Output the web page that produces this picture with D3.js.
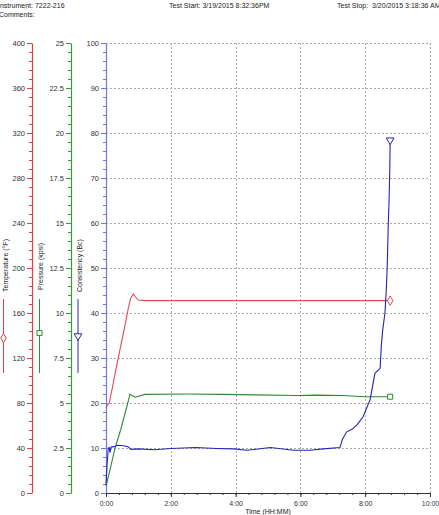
<!DOCTYPE html>
<html>
<head>
<meta charset="utf-8">
<script src="https://cdn.jsdelivr.net/npm/d3@7"></script>
<style>
  body { margin: 0; background: #fff; }
  svg { display: block; font-family: "Liberation Sans", Arial, sans-serif; }
  .tick text { fill: #333; }
</style>
</head>
<body>
<div id="chart"></div>
<script>
// header texts
var instrument = "Instrument: 7222-216",
    comments = "Comments:",
    testStart = "Test Start: 3/19/2015 8:32:36PM",
    testStop = "Test Stop:  3/20/2015 3:18:36 AM";

// time axis (hours)
var timeTicks = [0, 2, 4, 6, 8, 10];

// temperature (F)
var tempTime = [0, 0.05, 0.1, 0.2, 0.3, 0.4, 0.5, 0.6, 0.7, 0.76, 0.84, 0.92, 1.0, 1.2, 3, 5, 7, 8.77];
var tempVals = [76, 78, 80, 94, 109, 123, 137, 151, 166, 173, 177, 174, 171.5, 171, 171, 171, 171, 171];

// pressure (kpsi)
var presTime = [0, 0.1, 0.28, 0.45, 0.6, 0.74, 0.82, 0.9, 1.2, 2.5, 3.6, 4.65, 5.9, 6.5, 7.3, 8.0, 8.77];
var presVals = [0.4, 1.1, 2.5, 3.5, 4.5, 5.48, 5.4, 5.32, 5.48, 5.5, 5.48, 5.45, 5.42, 5.44, 5.42, 5.35, 5.35];

// consistency (Bc)
var consTime = [0, 0.03, 0.07, 0.1, 0.12, 0.16, 0.25, 0.37, 0.55, 0.68, 0.77, 1.0, 1.5, 2.0, 2.77, 3.4, 3.94, 4.35, 5.07, 5.8, 6.3, 6.7, 7.22,
                7.3, 7.43, 7.6, 7.74, 7.94, 8.05, 8.15, 8.3, 8.46, 8.5, 8.54, 8.61, 8.65, 8.68, 8.71, 8.74, 8.76, 8.77];
var consVals = [1.8, 6, 10, 10.1, 9.0, 10.2, 10.3, 10.6, 10.5, 10.3, 9.7, 9.8, 9.6, 9.9, 10.1, 9.9, 9.8, 9.5, 10.1, 9.5, 9.5, 9.8, 10.1,
                12, 13.6, 14.2, 15.1, 17, 19, 20.7, 26.6, 27.7, 33, 36.2, 40, 45, 50.3, 59.2, 65.8, 72.5, 78.4];

var tempTicks = d3.range(0, 401, 40),
    presTicks = [0, 2.5, 5, 7.5, 10, 12.5, 15, 17.5, 20, 22.5, 25],
    consTicks = d3.range(0, 101, 10);

var width = 439, height = 515,
    plotTop = 43, plotBottom = 493;

var svg = d3.select("#chart").append("svg")
    .attr("width", width)
    .attr("height", height);

var x = d3.scaleLinear().domain([0, 10]).range([106, 430]);
var yT = d3.scaleLinear().domain([0, 400]).range([plotBottom, plotTop]);
var yP = d3.scaleLinear().domain([0, 25]).range([plotBottom, plotTop]);
var yC = d3.scaleLinear().domain([0, 100]).range([plotBottom, plotTop]);

// header
var head = svg.append("g").attr("font-size", "7px").attr("fill", "#222");
head.append("text").attr("x", -2).attr("y", 8).text(instrument);
head.append("text").attr("x", -1).attr("y", 17).text(comments);
head.append("text").attr("x", 169).attr("y", 8).text(testStart);
head.append("text").attr("x", 337).attr("y", 8).attr("xml:space", "preserve").text(testStop);

// grid
var grid = svg.append("g")
    .attr("stroke", "#aaa")
    .attr("stroke-dasharray", "2,2")
    .attr("stroke-width", 1);
grid.selectAll("line.h").data(consTicks.filter(function(d) { return d > 0; }))
  .enter().append("line")
    .attr("x1", x(0)).attr("x2", x(10))
    .attr("y1", function(d) { return Math.round(yC(d)) + 0.5; })
    .attr("y2", function(d) { return Math.round(yC(d)) + 0.5; });
grid.selectAll("line.v").data(timeTicks.filter(function(d) { return d > 0; }))
  .enter().append("line")
    .attr("y1", plotTop).attr("y2", plotBottom)
    .attr("x1", function(d) { return Math.round(x(d)) + 0.5; })
    .attr("x2", function(d) { return Math.round(x(d)) + 0.5; });

// y axes: minor ticks, then major ticks with labels
function yAxis(scale, xpos, majors, minorStep, color, fmt) {
  var g = svg.append("g").attr("transform", "translate(" + xpos + ",0)");
  var dom = scale.domain();
  g.append("g")
    .call(d3.axisLeft(scale).tickValues(d3.range(dom[0], dom[1] + minorStep / 2, minorStep))
      .tickSize(3).tickSizeOuter(0).tickFormat(""))
    .call(function(a) { a.select(".domain").remove(); a.selectAll("line").attr("stroke", color); });
  g.append("g")
    .call(d3.axisLeft(scale).tickValues(majors).tickSize(5).tickSizeOuter(0).tickPadding(2).tickFormat(fmt))
    .call(function(a) {
      a.attr("font-size", "7.5px").attr("font-family", null);
      a.select(".domain").attr("stroke", color).attr("stroke-width", 1.2);
      a.selectAll("line").attr("stroke", color);
    });
}
yAxis(yT, 32, tempTicks, 8, "#e34040", d3.format("d"));
yAxis(yP, 71, presTicks, 0.5, "#3a9a3a", function(d) { return String(d); });
yAxis(yC, 106, consTicks, 2, "#7474ee", d3.format("d"));

// x axis
var xg = svg.append("g").attr("transform", "translate(0," + plotBottom + ")");
xg.append("g")
  .call(d3.axisBottom(x).tickValues(d3.range(0, 10.01, 0.4)).tickSize(2).tickSizeOuter(0).tickFormat(""))
  .call(function(a) { a.select(".domain").remove(); a.selectAll("line").attr("stroke", "#333"); });
xg.append("g")
  .call(d3.axisBottom(x).tickValues(timeTicks).tickSize(4).tickSizeOuter(0).tickPadding(4)
    .tickFormat(function(d) { return d + ":00"; }))
  .call(function(a) {
    a.attr("font-size", "7px").attr("font-family", null);
    a.select(".domain").attr("stroke", "#333");
    a.selectAll("line").attr("stroke", "#333");
  });
svg.append("text")
  .attr("x", (x(0) + x(10)) / 2).attr("y", 514)
  .attr("text-anchor", "middle").attr("font-size", "7px").attr("fill", "#222")
  .text("Time (HH:MM)");

// axis titles with legend markers
var legends = [
  { name: "Temperature (°F)", x: 8, lx: 3.5, ty: 292, color: "#e34040", shape: d3.symbolDiamond, my: 338 },
  { name: "Pressure (kpsi)", x: 43, lx: 39.5, ty: 290, color: "#2e8b2e", shape: d3.symbolSquare, my: 333 },
  { name: "Consistency (Bc)", x: 81.5, lx: 78, ty: 292, color: "#2a2ab0", shape: d3.symbolTriangle, my: 336, flip: true }
];
legends.forEach(function(l) {
  svg.append("text")
    .attr("transform", "translate(" + l.x + "," + l.ty + ") rotate(-90)")
    .attr("font-size", "7px").attr("fill", "#222")
    .text(l.name);
  svg.append("line")
    .attr("x1", l.lx).attr("x2", l.lx).attr("y1", 299).attr("y2", 373)
    .attr("stroke", l.color);
  svg.append("path")
    .attr("d", d3.symbol().type(l.shape).size(26)())
    .attr("transform", "translate(" + l.lx + "," + l.my + ")" + (l.flip ? " rotate(180)" : ""))
    .attr("fill", "#fff").attr("stroke", l.color);
});

// series
var series = [
  { t: tempTime, v: tempVals, y: yT, color: "#e84848", shape: d3.symbolDiamond },
  { t: presTime, v: presVals, y: yP, color: "#2e8b2e", shape: d3.symbolSquare },
  { t: consTime, v: consVals, y: yC, color: "#2424b8", shape: d3.symbolTriangle, flip: true }
];
series.forEach(function(s) {
  var pts = s.t.map(function(t, i) { return [t, s.v[i]]; });
  var line = d3.line()
    .x(function(d) { return x(d[0]); })
    .y(function(d) { return s.y(d[1]); });
  svg.append("path")
    .datum(pts)
    .attr("d", line)
    .attr("fill", "none")
    .attr("stroke", s.color)
    .attr("stroke-width", 1.1);
  var last = pts[pts.length - 1];
  svg.append("path")
    .attr("d", d3.symbol().type(s.shape).size(26)())
    .attr("transform", "translate(" + x(last[0]) + "," + s.y(last[1]) + ")" + (s.flip ? " rotate(180)" : ""))
    .attr("fill", "#fff").attr("stroke", s.color);
});
</script>
</body>
</html>
